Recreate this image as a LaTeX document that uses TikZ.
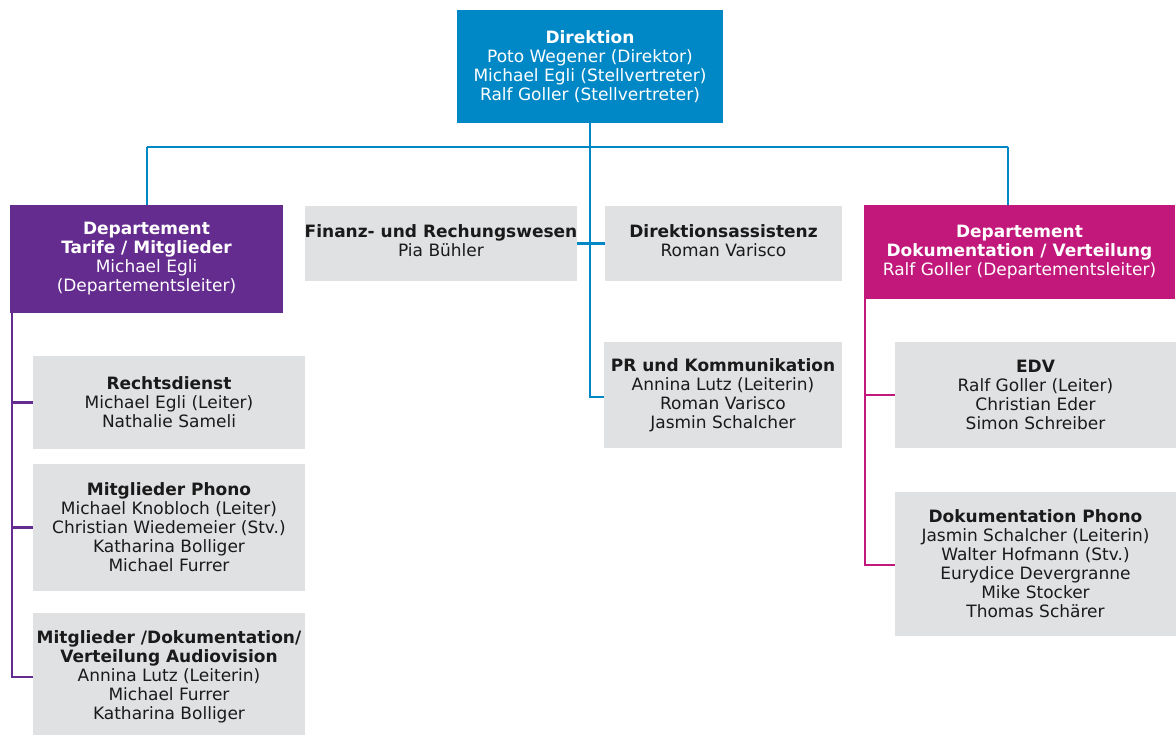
\documentclass[tikz,border=0pt]{standalone}
\usepackage{fontspec}
\setmainfont{DejaVu Sans}
\definecolor{dblue}{HTML}{0088C6}
\definecolor{dpurple}{HTML}{652C8F}
\definecolor{dmagenta}{HTML}{C2187C}
\definecolor{dgray}{HTML}{E0E1E3}
\definecolor{dtext}{HTML}{1A1A1A}
\begin{document}
\begin{tikzpicture}[x=1pt,y=-1pt,
  box/.style={rectangle, inner sep=0pt, align=center, font=\fontsize{17}{19}\selectfont},
  graybox/.style={box, fill=dgray, text=dtext},
  bluebox/.style={box, fill=dblue, text=white},
  purplebox/.style={box, fill=dpurple, text=white},
  magbox/.style={box, fill=dmagenta, text=white},
  bline/.style={draw=dblue, line width=2.6pt},
  pline/.style={draw=dpurple, line width=2.6pt},
  mline/.style={draw=dmagenta, line width=2.6pt}]
\useasboundingbox (0,0) rectangle (1176,735);
\fill[white] (0,0) rectangle (1176,735);

\coordinate (hL) at (147,147);
\coordinate (hR) at (1008,147);
\coordinate (hM) at (590,147);
\coordinate (prc) at (590,397);
\coordinate (pv) at (12,677);
\coordinate (mv) at (865,565);

\node[bluebox, minimum width=266pt, minimum height=113pt] (dir) at (590,66.5)
 {\textbf{Direktion}\\Poto Wegener (Direktor)\\Michael Egli (Stellvertreter)\\Ralf Goller (Stellvertreter)};

\node[purplebox, minimum width=273pt, minimum height=108pt] (tarif) at (146.5,259)
 {\textbf{Departement}\\\textbf{Tarife / Mitglieder}\\Michael Egli\\(Departementsleiter)};

\node[graybox, minimum width=272pt, minimum height=75pt] (fin) at (441,243.5)
 {\textbf{Finanz- und Rechungswesen}\\Pia Bühler\\[-13pt]\mbox{}};

\node[graybox, minimum width=237pt, minimum height=75pt] (assist) at (723.5,243.5)
 {\textbf{Direktionsassistenz}\\Roman Varisco\\[-13pt]\mbox{}};

\node[magbox, minimum width=311pt, minimum height=94pt] (dok) at (1019.5,252)
 {\textbf{Departement}\\\textbf{Dokumentation / Verteilung}\\Ralf Goller (Departementsleiter)};

\node[graybox, minimum width=272pt, minimum height=93pt] (recht) at (169,402.5)
 {\textbf{Rechtsdienst}\\Michael Egli (Leiter)\\Nathalie Sameli};

\node[graybox, minimum width=272pt, minimum height=127pt] (mphono) at (169,527.5)
 {\textbf{Mitglieder Phono}\\Michael Knobloch (Leiter)\\Christian Wiedemeier (Stv.)\\Katharina Bolliger\\Michael Furrer};

\node[graybox, minimum width=272pt, minimum height=128pt] (maudio) at (169,677)
 {\textbf{Mitglieder /Dokumentation/}\\\textbf{Verteilung Audiovision}\\Annina Lutz (Leiterin)\\Michael Furrer\\Katharina Bolliger};

\node[graybox, minimum width=238pt, minimum height=106pt] (pr) at (723,395)
 {\textbf{PR und Kommunikation}\\Annina Lutz (Leiterin)\\Roman Varisco\\Jasmin Schalcher};

\node[graybox, minimum width=281pt, minimum height=106pt] (edv) at (1035.5,395)
 {\textbf{EDV}\\Ralf Goller (Leiter)\\Christian Eder\\Simon Schreiber};

\node[graybox, minimum width=281pt, minimum height=144pt] (dphono) at (1035.5,564)
 {\textbf{Dokumentation Phono}\\Jasmin Schalcher (Leiterin)\\Walter Hofmann (Stv.)\\Eurydice Devergranne\\Mike Stocker\\Thomas Schärer};

% blue connectors
\draw[bline] (dir.south) -- (hM);
\draw[bline] (hL) -- (hR);
\draw[bline] (hL) -- (tarif.north -| hL);
\draw[bline] (hR) -- (dok.north -| hR);
\draw[bline] (hM) -- (prc) -- (pr.west |- prc);
\draw[bline] (fin.east) -- (assist.west);

% purple connectors
\draw[pline] (tarif.south -| pv) -- (pv) -- (maudio.west |- pv);
\draw[pline] (pv |- recht.west) -- (recht.west);
\draw[pline] (pv |- mphono.west) -- (mphono.west);

% magenta connectors
\draw[mline] (dok.south -| mv) -- (mv) -- (dphono.west |- mv);
\draw[mline] (mv |- edv.west) -- (edv.west);
\end{tikzpicture}
\end{document}
